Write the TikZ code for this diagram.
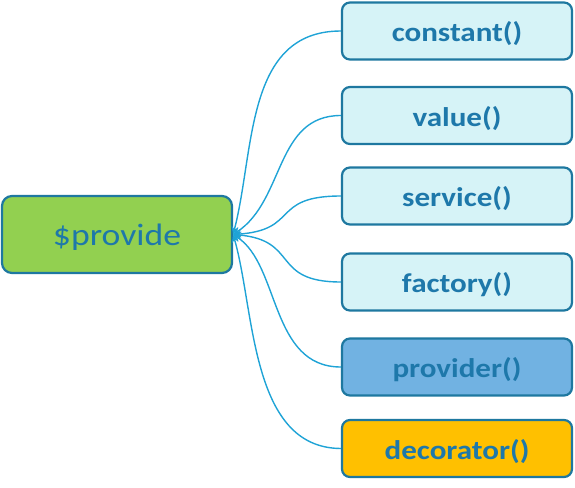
\documentclass[tikz,border=0pt]{standalone}
\usepackage{fontspec}
\setmainfont{Carlito}[FakeStretch=1.15]
\usetikzlibrary{arrows.meta}
\definecolor{edgec}{RGB}{31,163,214}
\definecolor{bord}{RGB}{30,120,160}
\definecolor{txt}{RGB}{30,120,170}
\definecolor{lightc}{RGB}{214,243,247}
\definecolor{grn}{RGB}{146,208,80}
\definecolor{prov}{RGB}{113,178,226}
\definecolor{deco}{RGB}{255,192,0}
\newcommand{\lowtxt}[1]{\raisebox{-3pt}[\height][\depth]{#1}}
\tikzset{
  fnbox/.style={draw=bord, line width=2.2pt, rounded corners=8pt, minimum width=230pt,
    minimum height=57pt, inner sep=0pt, text=txt, fill=lightc,
    font=\fontsize{27}{30}\selectfont\bfseries},
  hubbox/.style={draw=bord, line width=2.2pt, rounded corners=10pt, minimum width=230pt,
    minimum height=77pt, inner sep=0pt, text=txt, fill=grn,
    font=\fontsize{31}{34}\selectfont},
  conn/.style={draw=edgec, line width=1.4pt, -{Stealth[length=8pt,width=7pt]}}
}
\begin{document}
\begin{tikzpicture}[x=1pt,y=-1pt]
\useasboundingbox (0,0) rectangle (575,487);
\node[hubbox] (p) at (117,234.5) {\lowtxt{\$provide}};
\node[fnbox] (c) at (457,31) {\lowtxt{constant()}};
\node[fnbox] (v) at (457,115.5) {\lowtxt{value()}};
\node[fnbox] (s) at (457,196) {\lowtxt{service()}};
\node[fnbox] (f) at (457,282) {\lowtxt{factory()}};
\node[fnbox, fill=prov] (pr) at (457,367) {\lowtxt{provider()}};
\node[fnbox, fill=deco] (d) at (457,448.5) {\lowtxt{decorator()}};
\draw[conn] (c.west) .. controls (245,31) and (255,150) .. (p.east);
\draw[conn] (v.west) .. controls (275,115.5) and (285,200) .. (p.east);
\draw[conn] (s.west) .. controls (270,196) and (300,230) .. (p.east);
\draw[conn] (f.west) .. controls (270,282) and (300,240) .. (p.east);
\draw[conn] (pr.west) .. controls (270,367) and (280,265) .. (p.east);
\draw[conn] (d.west) .. controls (250,448) and (255,310) .. (p.east);
\end{tikzpicture}
\end{document}
